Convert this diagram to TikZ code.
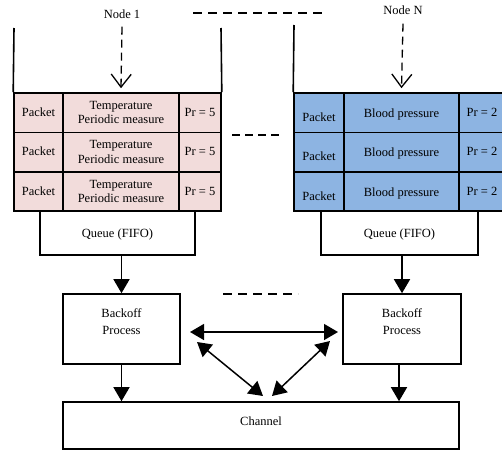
\documentclass[tikz,border=0pt]{standalone}
\usepackage{fontspec}
\setmainfont{Liberation Serif}
\usetikzlibrary{arrows.meta,calc}
\definecolor{pinkcell}{RGB}{242,220,219}
\definecolor{bluecell}{RGB}{141,180,226}
\begin{document}
\begin{tikzpicture}[x=1pt,y=-1pt,
  every node/.style={font=\fontsize{12.5}{14.5}\selectfont, inner sep=0pt, align=center},
  pcell/.style={draw, line width=1.6pt, fill=pinkcell, minimum height=39.3pt},
  bcell/.style={draw, line width=1.6pt, fill=bluecell, minimum height=39.3pt},
  oneline/.style={text height=10pt, text depth=2pt},
  procbox/.style={draw, line width=1.6pt, fill=white},
  wall/.style={line width=1.6pt},
  dasharrow/.style={line width=1.3pt, dash pattern=on 8pt off 5pt, -{Straight Barb[length=13pt,width=20pt,line width=1.3pt]}},
  dashline/.style={line width=1.3pt, dash pattern=on 9pt off 6pt},
  solidarrow/.style={line width=1.5pt, -{Triangle[length=14pt,width=16pt]}},
  twoway/.style={line width=1.5pt, {Triangle[length=14pt,width=16pt]}-{Triangle[length=14pt,width=16pt]}}
]
\useasboundingbox (0,0) rectangle (502,450);
\clip (0,0) rectangle (502,450);

% labels
\node (lab1) at (122,14) {Node 1};
\node (labN) at (403,10) {Node N};

% left table
\foreach \r/\y in {1/112.65, 2/151.95, 3/191.35} {
  \node[pcell, oneline, minimum width=49pt] (lp\r) at (38.5,\y) {Packet};
  \node[pcell, minimum width=116pt] (lt\r) at (121,\y) {Temperature\\Periodic measure};
  \node[pcell, oneline, minimum width=42pt] (lr\r) at (200,\y) {Pr = 5};
}
% right table
\foreach \r/\y in {1/112.65, 2/151.95, 3/191.35} {
  \node[bcell, text height=18pt, text depth=0pt, minimum width=50pt] (rp\r) at (319,\y) {Packet};
  \node[bcell, text height=12pt, text depth=2.7pt, minimum width=115pt] (rt\r) at (401.5,\y) {Blood pressure};
  \node[bcell, oneline, minimum width=46pt] (rr\r) at (482,\y) {Pr = 2};
}

% walls
\coordinate (lw1) at (14,28);
\coordinate (lw2) at (221,28);
\coordinate (rw1) at (294,25);
\draw[wall] (lw1) -- (lp1.north west);
\draw[wall] (lw2) -- (lr1.north east);
\draw[wall] (rw1) -- (rp1.north west);

% dashed input arrows
\draw[dasharrow] ([yshift=-8pt]lab1.south) -- ([yshift=4pt]lt1.north);
\draw[dasharrow] ([yshift=-9pt]labN.south) -- ([yshift=4pt]rt1.north);

% queues
\node[procbox, oneline, minimum width=155pt, minimum height=44pt] (ql) at (117.5,233) {Queue (FIFO)};
\node[procbox, oneline, minimum width=157pt, minimum height=44pt] (qr) at (399.5,233) {Queue (FIFO)};

% backoff
\node[procbox, minimum width=117pt, minimum height=70pt,
  label={[font=\fontsize{12.5}{16.5}\selectfont, yshift=7.5pt]center:Backoff\\Process}] (bl) at (121.5,329) {};
\node[procbox, minimum width=118pt, minimum height=70pt,
  label={[font=\fontsize{12.5}{16.5}\selectfont, yshift=7.5pt]center:Backoff\\Process}] (br) at (402,329) {};

% channel
\node[procbox, text depth=8pt, minimum width=396pt, minimum height=47pt] (ch) at (261,425.5) {Channel};

% arrows
\draw[solidarrow] (ql.south -| bl.north) -- (bl.north);
\draw[solidarrow] (qr.south -| br.north) -- (br.north);
\draw[solidarrow] (bl.south) -- (bl.south |- ch.north);
\draw[solidarrow] ([xshift=-3pt]br.south) -- ([xshift=-3pt]br.south |- ch.north);

% interconnection arrows
\coordinate (h1) at (190,332);
\coordinate (h2) at (338,332);
\coordinate (d1a) at (197,342);
\coordinate (d1b) at (263,396);
\coordinate (d2a) at (272,396);
\coordinate (d2b) at (330,341);
\draw[twoway] (h1) -- (h2);
\draw[twoway] (d1a) -- (d1b);
\draw[twoway] (d2a) -- (d2b);

% dashed ellipsis lines
\coordinate (t1) at (193,13);
\coordinate (t2) at (325,13);
\draw[dashline] (t1) -- (t2);
\coordinate (m1) at (232,135);
\coordinate (m2) at (280,135);
\draw[dashline, dash pattern=on 8pt off 5pt] (m1) -- (m2);
\coordinate (b1) at (223,294);
\coordinate (b2) at (298,294);
\draw[dashline] (b1) -- (b2);
\end{tikzpicture}
\end{document}
